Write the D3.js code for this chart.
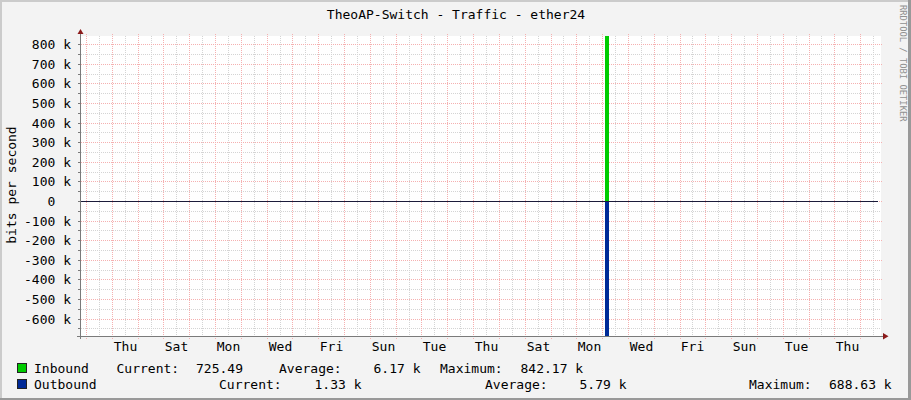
<!DOCTYPE html>
<html><head><meta charset="utf-8">
<script src="https://cdn.jsdelivr.net/npm/d3@7"></script>
<style>
html,body{margin:0;padding:0;background:#f3f3f3;}
svg{display:block;}
text{font-family:"DejaVu Sans Mono",monospace;fill:#000;white-space:pre;}
</style></head><body>
<svg id="c" width="911" height="400" xml:space="preserve"></svg>
<script>
// ---------- data ----------
const title = "TheoAP-Switch - Traffic - ether24";
const yAxisLabel = "bits per second";
const watermark = "RRDTOOL / TOBI OETIKER";
const timeDomain = ["2021-06-01T19:21:00Z", "2021-07-02T19:21:00Z"];
const sampleTimes = ["2021-06-01T19:21:00Z", "2021-06-22T02:40:00Z", "2021-06-22T06:20:00Z", "2021-07-02T19:21:00Z"];
const inboundBits = [725.49, 842170, 725.49, 725.49];
const outboundBits = [1330, 688630, 1330, 1330];
const yDomain = [-688630, 842170];
const yMajorTicks = [-600000, -500000, -400000, -300000, -200000, -100000, 0, 100000, 200000, 300000, 400000, 500000, 600000, 700000, 800000];
const yTickLabels = ["-600 k", "-500 k", "-400 k", "-300 k", "-200 k", "-100 k", "0  ", "100 k", "200 k", "300 k", "400 k", "500 k", "600 k", "700 k", "800 k"];
const yMinorTicks = [-650000, -550000, -450000, -350000, -250000, -150000, -50000, 50000, 150000, 250000, 350000, 450000, 550000, 650000, 750000];
const xLabelTimes = ["2021-06-03T12:00:00Z", "2021-06-05T12:00:00Z", "2021-06-07T12:00:00Z", "2021-06-09T12:00:00Z", "2021-06-11T12:00:00Z", "2021-06-13T12:00:00Z", "2021-06-15T12:00:00Z", "2021-06-17T12:00:00Z", "2021-06-19T12:00:00Z", "2021-06-21T12:00:00Z", "2021-06-23T12:00:00Z", "2021-06-25T12:00:00Z", "2021-06-27T12:00:00Z", "2021-06-29T12:00:00Z", "2021-07-01T12:00:00Z"];
const xLabels = ["Thu", "Sat", "Mon", "Wed", "Fri", "Sun", "Tue", "Thu", "Sat", "Mon", "Wed", "Fri", "Sun", "Tue", "Thu"];
const seriesNames = ["Inbound", "Outbound"];
const seriesColors = ["#00CC00", "#002A97"];
const currentValues = ["725.49", "1.33 k"];
const averageValues = ["6.17 k", "5.79 k"];
const maximumValues = ["842.17 k", "688.63 k"];

// ---------- drawing ----------
const svg = d3.select("#c");
const W = 911, H = 400;
const L = 81, R = 881, T = 36, B = 336;
const parse = d3.isoParse;

// background + frame
svg.append("rect").attr("width", W).attr("height", H).attr("fill", "#f3f3f3");
svg.append("rect").attr("x", 0).attr("y", 0).attr("width", W).attr("height", 2).attr("fill", "#cbcbcb");
svg.append("rect").attr("x", 0).attr("y", 0).attr("width", 2).attr("height", H).attr("fill", "#cbcbcb");
svg.append("rect").attr("x", 0).attr("y", H - 2).attr("width", W).attr("height", 2).attr("fill", "#999999");
svg.append("rect").attr("x", W - 3).attr("y", 0).attr("width", 3).attr("height", H).attr("fill", "#999999");

// canvas
svg.append("rect").attr("x", L).attr("y", T).attr("width", R - L).attr("height", B - T).attr("fill", "#ffffff");

const x = d3.scaleUtc().domain(timeDomain.map(parse)).range([L, R]).interpolate(d3.interpolateRound);
const y = d3.scaleLinear().domain(yDomain).range([B, T]).interpolate(d3.interpolateRound);

const grid = svg.append("g").attr("shape-rendering", "crispEdges");
const minorCol = "#d4d4d4", majorCol = "#f5b0b0";

// minor vertical (noon)
const t0 = parse(timeDomain[0]), t1 = parse(timeDomain[1]);
const noons = d3.utcHour.every(12).range(t0, t1).filter(d => d.getUTCHours() === 12);
grid.selectAll(".vmin").data(noons).join("line")
  .attr("x1", d => x(d) + 0.5).attr("x2", d => x(d) + 0.5)
  .attr("y1", T).attr("y2", B)
  .attr("stroke", minorCol).attr("stroke-dasharray", "1,1");
// minor horizontal
grid.selectAll(".hmin").data(yMinorTicks).join("line")
  .attr("x1", L).attr("x2", R)
  .attr("y1", d => y(d) + 0.5).attr("y2", d => y(d) + 0.5)
  .attr("stroke", minorCol).attr("stroke-dasharray", "1,1");
// major vertical (midnight)
const days = d3.utcDay.range(t0, t1);
grid.selectAll(".vmaj").data(days).join("line")
  .attr("x1", d => x(d) + 0.5).attr("x2", d => x(d) + 0.5)
  .attr("y1", T - 2).attr("y2", B + 3)
  .attr("stroke", majorCol).attr("stroke-dasharray", "1,1");
// major horizontal
grid.selectAll(".hmaj").data(yMajorTicks).join("line")
  .attr("x1", L - 2).attr("x2", R + 2)
  .attr("y1", d => y(d) + 0.5).attr("y2", d => y(d) + 0.5)
  .attr("stroke", majorCol).attr("stroke-dasharray", "1,1");

// series
const pts = sampleTimes.map((t, i) => ({t: parse(t), inb: inboundBits[i], out: outboundBits[i]}));
const areaIn = d3.area().curve(d3.curveStepAfter).x(d => x(d.t)).y0(y(0)).y1(d => y(d.inb));
const areaOut = d3.area().curve(d3.curveStepAfter).x(d => x(d.t)).y0(y(0)).y1(d => y(-d.out));
svg.append("path").datum(pts).attr("d", areaIn).attr("fill", seriesColors[0]).attr("shape-rendering", "crispEdges");
svg.append("path").datum(pts).attr("d", areaOut).attr("fill", seriesColors[1]).attr("shape-rendering", "crispEdges");

// zero line
svg.append("line").attr("x1", L).attr("x2", R - 3).attr("y1", y(0) + 0.5).attr("y2", y(0) + 0.5)
  .attr("stroke", "#1b1b3a").attr("shape-rendering", "crispEdges");

// axes lines
const axisCol = "#7a7a7a";
svg.append("line").attr("x1", 80.5).attr("x2", 80.5).attr("y1", 31).attr("y2", B + 3)
  .attr("stroke", axisCol).attr("shape-rendering", "crispEdges");
svg.append("line").attr("x1", 77).attr("x2", 884).attr("y1", B + 0.5).attr("y2", B + 0.5)
  .attr("stroke", axisCol).attr("shape-rendering", "crispEdges");
// arrows
svg.append("path").attr("d", "M77.5,34 L83.5,34 L80.5,29 Z").attr("fill", "#8b1a1a");
svg.append("path").attr("d", "M883,333 L883,339.5 L888.5,336.3 Z").attr("fill", "#8b1a1a");

// y axis ticks & labels
const yAx = d3.axisLeft(y).tickValues(yMajorTicks).tickFormat((d, i) => yTickLabels[i]).tickSizeInner(2).tickSizeOuter(0).tickPadding(7);
const gy = svg.append("g").attr("transform", "translate(80,0)").call(yAx);
gy.select(".domain").remove();
gy.selectAll("line").attr("stroke", axisCol).attr("shape-rendering", "crispEdges");
gy.selectAll("text").attr("font-family", "DejaVu Sans Mono").attr("font-size", 13).attr("dy", "0.38em").attr("fill", "#000");
const yMinAx = d3.axisLeft(y).tickValues(yMinorTicks).tickFormat("").tickSizeInner(2).tickSizeOuter(0);
const gy2 = svg.append("g").attr("transform", "translate(80,0)").call(yMinAx);
gy2.select(".domain").remove();
gy2.selectAll("line").attr("stroke", axisCol).attr("shape-rendering", "crispEdges");

// x axis labels
const xAx = d3.axisBottom(x).tickValues(xLabelTimes.map(parse)).tickFormat((d, i) => xLabels[i]).tickSize(0).tickPadding(6);
const gx = svg.append("g").attr("transform", `translate(0,${B})`).call(xAx);
gx.select(".domain").remove();
gx.selectAll("line").remove();
gx.selectAll("text").attr("font-family", "DejaVu Sans Mono").attr("font-size", 13).attr("fill", "#000");

// title
svg.append("text").attr("x", 456).attr("y", 19).attr("text-anchor", "middle").attr("font-size", 13).text(title);

// y label
svg.append("text").attr("transform", "translate(11,185) rotate(-90)").attr("text-anchor", "middle")
  .attr("dominant-baseline", "central").attr("font-size", 13).text(yAxisLabel);

// watermark
svg.append("text").attr("transform", "translate(898,5) rotate(90)").attr("font-size", 8.8)
  .attr("dominant-baseline", "text-after-edge").style("fill", "#909090").text(watermark);

// legend
const legendRows = [
  {y: 373, pos: [116.5, 196, 279, 373.5, 440, 520.5]},
  {y: 389, pos: [219, 314.5, 485, 579.5, 749, 829]}
];
seriesNames.forEach((name, i) => {
  const row = legendRows[i];
  const g = svg.append("g").attr("font-size", 13);
  g.append("rect").attr("x", 17.5).attr("y", row.y - 9.5).attr("width", 9).attr("height", 9)
    .attr("fill", seriesColors[i]).attr("stroke", "#222").attr("shape-rendering", "crispEdges");
  g.append("text").attr("x", 34).attr("y", row.y).text(name);
  const items = ["Current:", currentValues[i], "Average:", averageValues[i], "Maximum:", maximumValues[i]];
  items.forEach((s, k) => g.append("text").attr("x", row.pos[k]).attr("y", row.y).text(s));
});
</script>
</body></html>
